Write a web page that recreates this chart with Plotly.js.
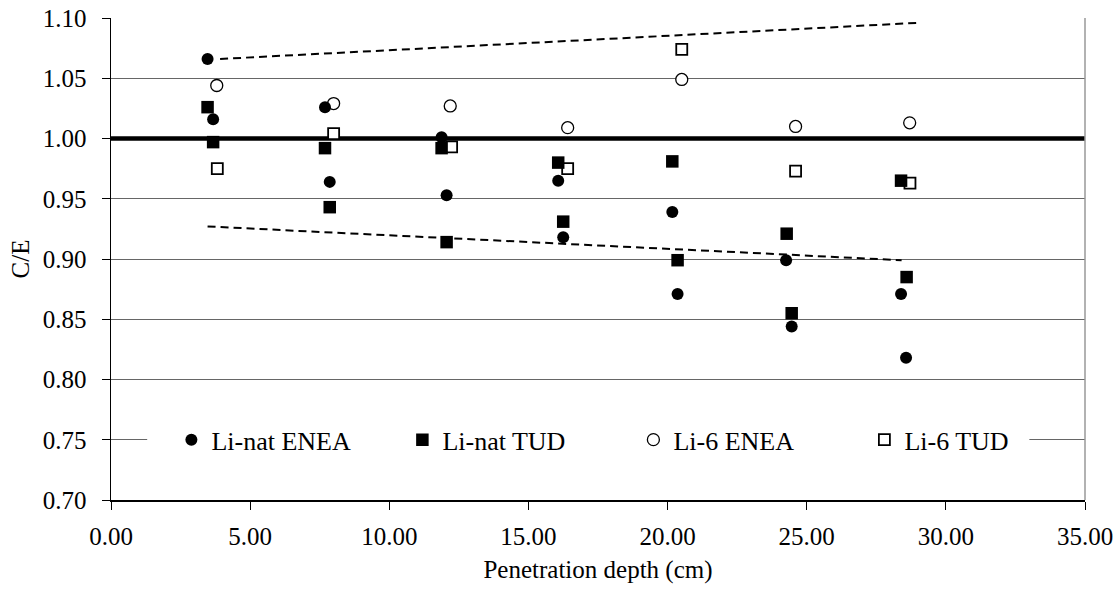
<!DOCTYPE html>
<html>
<head>
<meta charset="utf-8">
<script src="https://cdn.plot.ly/plotly-3.0.1.min.js"></script>
<style>html,body{margin:0;padding:0;background:#fff;}#chart{width:1120px;height:593px;}</style>
</head>
<body>
<div id="chart"></div>
<script>
// Series names
const seriesNames = ["Li-nat ENEA", "Li-nat TUD", "Li-6 ENEA", "Li-6 TUD"];

// Li-nat ENEA (filled circles)
const liNatEneaX = [3.47, 3.67, 7.69, 7.86, 11.88, 12.06, 16.07, 16.25, 20.17, 20.36, 24.26, 24.46, 28.39, 28.57];
const liNatEneaY = [1.066, 1.016, 1.026, 0.964, 1.001, 0.953, 0.965, 0.918, 0.939, 0.871, 0.899, 0.844, 0.871, 0.818];

// Li-nat TUD (filled squares)
const liNatTudX = [3.47, 3.67, 7.69, 7.86, 11.88, 12.06, 16.07, 16.25, 20.17, 20.36, 24.28, 24.46, 28.39, 28.59];
const liNatTudY = [1.026, 0.997, 0.992, 0.943, 0.992, 0.914, 0.980, 0.931, 0.981, 0.899, 0.921, 0.855, 0.965, 0.885];

// Li-6 ENEA (open circles)
const li6EneaX = [3.80, 8.00, 12.19, 16.41, 20.51, 24.60, 28.70];
const li6EneaY = [1.044, 1.029, 1.027, 1.009, 1.049, 1.010, 1.013];

// Li-6 TUD (open squares)
const li6TudX = [3.82, 8.00, 12.24, 16.41, 20.51, 24.60, 28.71];
const li6TudY = [0.975, 1.004, 0.993, 0.975, 1.074, 0.973, 0.963];

// Reference line C/E = 1
const refLineX = [0, 35];
const refLineY = [1.0, 1.0];

// Dashed envelope lines
const upperBandX = [3.92, 29.01];
const upperBandY = [1.066, 1.096];
const lowerBandX = [3.47, 28.41];
const lowerBandY = [0.927, 0.899];

// Axis ticks
const xTickVals = [0, 5, 10, 15, 20, 25, 30, 35];
const yTickVals = [0.70, 0.75, 0.80, 0.85, 0.90, 0.95, 1.00, 1.05, 1.10];

const FONT = "'Liberation Serif', 'Times New Roman', serif";

const traces = [
  {x: refLineX, y: refLineY, mode: 'lines', line: {color: '#000', width: 4.3}, showlegend: false, hoverinfo: 'skip'},
  {x: upperBandX, y: upperBandY, mode: 'lines', line: {color: '#000', width: 2, dash: '8px,5px'}, showlegend: false, hoverinfo: 'skip'},
  {x: lowerBandX, y: lowerBandY, mode: 'lines', line: {color: '#000', width: 2, dash: '8px,5px'}, showlegend: false, hoverinfo: 'skip'},
  {x: li6TudX, y: li6TudY, name: seriesNames[3], mode: 'markers', legendrank: 4,
   marker: {symbol: 'square', size: 11, color: '#fff', line: {color: '#000', width: 1.8}}},
  {x: li6EneaX, y: li6EneaY, name: seriesNames[2], mode: 'markers', legendrank: 3,
   marker: {symbol: 'circle', size: 12, color: '#fff', line: {color: '#000', width: 1.3}}},
  {x: liNatTudX, y: liNatTudY, name: seriesNames[1], mode: 'markers', legendrank: 2,
   marker: {symbol: 'square', size: 12.5, color: '#000', line: {width: 0}}},
  {x: liNatEneaX, y: liNatEneaY, name: seriesNames[0], mode: 'markers', legendrank: 1,
   marker: {symbol: 'circle', size: 12, color: '#000', line: {width: 0}}}
];

const layout = {
  width: 1120,
  height: 593,
  margin: {l: 111, r: 35, t: 18, b: 93, pad: 0},
  paper_bgcolor: '#fff',
  plot_bgcolor: '#fff',
  font: {family: FONT, color: '#000', size: 25},
  showlegend: true,
  legend: {
    orientation: 'h',
    x: 0.062, xanchor: 'left',
    y: 0.125, yanchor: 'middle',
    bgcolor: 'rgba(0,0,0,0)',
    borderwidth: 0,
    font: {family: FONT, size: 26, color: '#000'},
    entrywidth: 186,
    entrywidthmode: 'pixels',
    traceorder: 'normal'
  },
  xaxis: {
    range: [0, 35],
    tickvals: xTickVals,
    tickformat: '.2f',
    ticks: 'outside', ticklen: 8, tickwidth: 1, tickcolor: '#000',
    ticklabelstandoff: 5,
    showline: true, linecolor: '#000', linewidth: 1.5,
    showgrid: false, zeroline: false,
    tickfont: {family: FONT, size: 25, color: '#000'},
    title: {text: 'Penetration depth (cm)', font: {family: FONT, size: 25, color: '#000'}, standoff: 12}
  },
  yaxis: {
    range: [0.70, 1.10],
    tickvals: yTickVals,
    tickformat: '.2f',
    ticks: 'outside', ticklen: 8, tickwidth: 1, tickcolor: '#000',
    ticklabelstandoff: 10,
    showline: true, linecolor: '#000', linewidth: 1.5,
    showgrid: true, gridcolor: '#666', gridwidth: 1,
    zeroline: false,
    tickfont: {family: FONT, size: 25, color: '#000'},
    title: {text: 'C/E', font: {family: FONT, size: 25, color: '#000'}, standoff: 6}
  },
  shapes: [
    {type: 'line', xref: 'paper', yref: 'paper', x0: 1, x1: 1, y0: 0, y1: 1, line: {color: '#999', width: 1.5}},
    {type: 'rect', xref: 'x', yref: 'y', x0: 1.3, x1: 33.0, y0: 0.735, y1: 0.765, fillcolor: '#fff', line: {width: 0}, layer: 'above'}
  ]
};

Plotly.newPlot('chart', traces, layout, {staticPlot: true, displayModeBar: false});
</script>
</body>
</html>
